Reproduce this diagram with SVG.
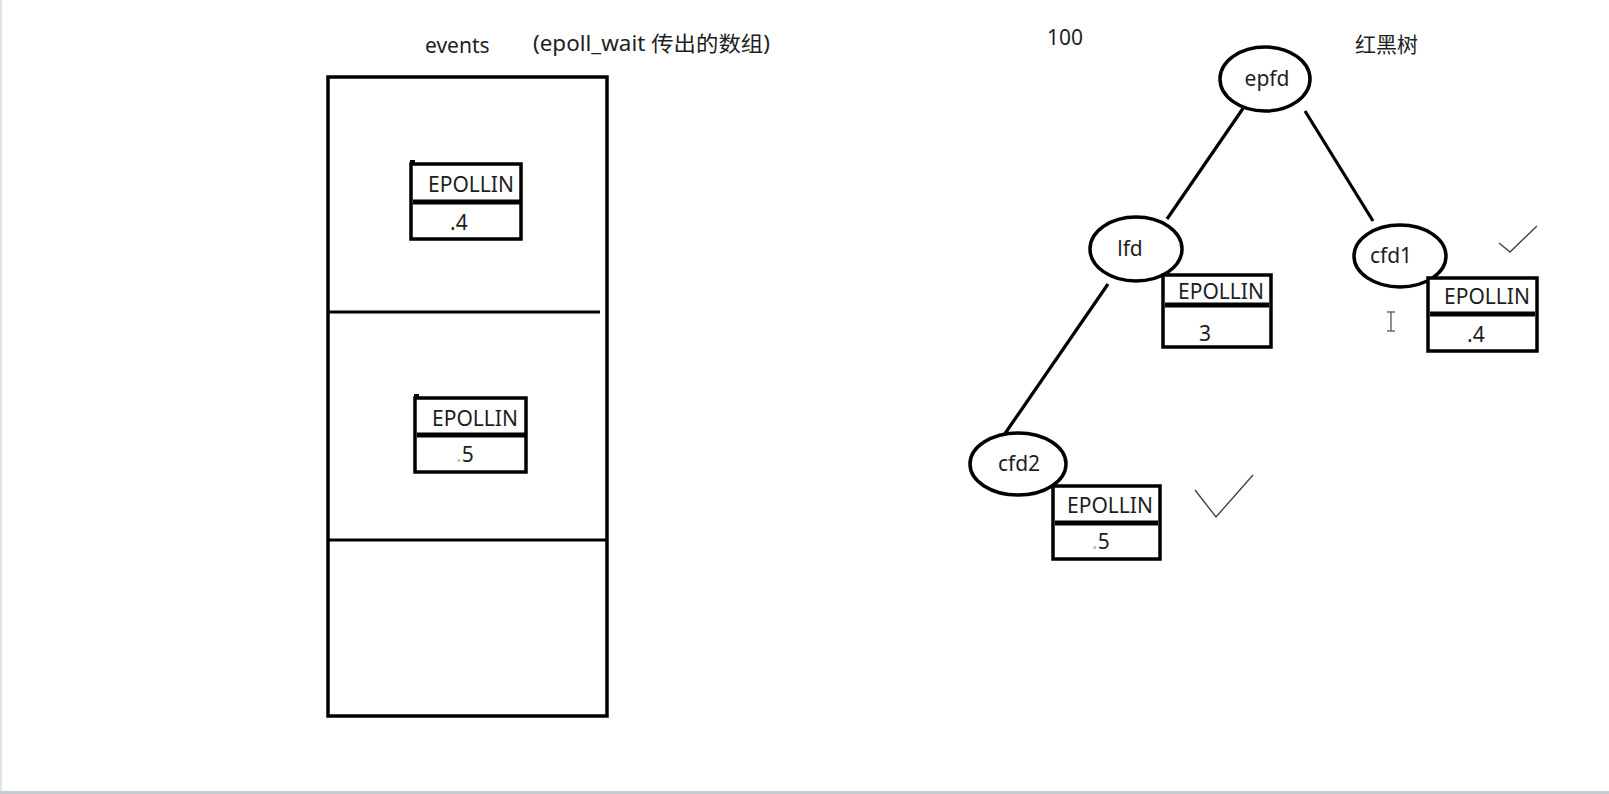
<svg xmlns="http://www.w3.org/2000/svg" width="1609" height="794" viewBox="0 0 1609 794">
<style>
  text{font-family:"Noto Sans","Noto Sans CJK SC",sans-serif;font-size:21px;fill:#1e1e1e}
  .node{fill:#fff;stroke:#000;stroke-width:3.5}
  .box{fill:#fff;stroke:#000;stroke-width:3.5}
  .sep{stroke:#000;stroke-width:5}
  .edge{stroke:#000;stroke-width:3.2;fill:none}
  .tick{stroke:#444;stroke-width:1.4;fill:none}
  .mid{text-anchor:middle}
</style>
<rect width="1609" height="794" fill="#fff"/>
<rect x="0" y="0" width="2" height="791" fill="#dde4ec"/>
<rect x="0" y="791" width="1609" height="3" fill="#c5cad3"/>

<g id="titles">
  <text x="425" y="53">events</text>
  <text x="533" y="51" textLength="237" lengthAdjust="spacingAndGlyphs">(epoll_wait 传出的数组)</text>
  <text x="1047" y="45">100</text>
  <text x="1355" y="52">红黑树</text>
</g>

<g id="events-array">
  <rect x="328" y="77" width="279" height="639" fill="none" stroke="#000" stroke-width="3.5"/>
  <line x1="328" y1="312" x2="600" y2="312" stroke="#000" stroke-width="3"/>
  <line x1="328" y1="540" x2="607" y2="540" stroke="#000" stroke-width="3"/>
</g>

<g id="event1">
  <rect class="box" x="411" y="164" width="110" height="75"/>
  <rect x="410" y="160" width="5" height="5" fill="#000"/>
  <line class="sep" x1="413" y1="202" x2="520" y2="202"/>
  <text x="428" y="192">EPOLLIN</text>
  <text x="450" y="230">.4</text>
</g>

<g id="event2">
  <rect class="box" x="415" y="398" width="111" height="74"/>
  <rect x="414" y="394" width="5" height="5" fill="#000"/>
  <line class="sep" x1="417" y1="435" x2="525" y2="435"/>
  <text x="432" y="426">EPOLLIN</text>
  <text x="456" y="462"><tspan fill="#bbb">.</tspan>5</text>
</g>

<g id="connectors">
  <line class="edge" x1="1244" y1="107" x2="1167" y2="219"/>
  <line class="edge" x1="1305" y1="111" x2="1373" y2="221"/>
  <line class="edge" x1="1108" y1="284" x2="1004" y2="435"/>
</g>

<g id="epfd">
  <ellipse class="node" cx="1265" cy="79" rx="45" ry="32"/>
  <text class="mid" x="1267" y="86">epfd</text>
</g>

<g id="lfd">
  <ellipse class="node" cx="1136" cy="249" rx="46" ry="32"/>
  <text class="mid" x="1130" y="256">lfd</text>
</g>

<g id="lfd-event">
  <rect class="box" x="1163" y="275" width="108" height="72"/>
  <line class="sep" x1="1165" y1="305" x2="1269" y2="305"/>
  <text x="1178" y="299">EPOLLIN</text>
  <text x="1199" y="341">3</text>
</g>

<g id="cfd1">
  <ellipse class="node" cx="1400" cy="256" rx="46" ry="31"/>
  <text class="mid" x="1391" y="263">cfd1</text>
</g>

<g id="cfd1-event">
  <rect class="box" x="1428" y="278" width="109" height="73"/>
  <line class="sep" x1="1430" y1="314" x2="1535" y2="314"/>
  <text x="1444" y="304">EPOLLIN</text>
  <text x="1467" y="342">.4</text>
</g>

<g id="cfd2">
  <ellipse class="node" cx="1018" cy="464" rx="48" ry="31"/>
  <text class="mid" x="1019" y="471">cfd2</text>
</g>

<g id="cfd2-event">
  <rect class="box" x="1053" y="486" width="107" height="73"/>
  <line class="sep" x1="1055" y1="523" x2="1158" y2="523"/>
  <text x="1067" y="513">EPOLLIN</text>
  <text x="1092" y="549"><tspan fill="#bbb">.</tspan>5</text>
</g>

<g id="marks">
  <polyline class="tick" points="1499,243 1510,252 1537,226"/>
  <polyline class="tick" points="1195,490 1216,517 1253,475"/>
  <g stroke="#555" stroke-width="1.3">
    <line x1="1391" y1="312" x2="1391" y2="331"/>
    <line x1="1387" y1="312" x2="1395" y2="312"/>
    <line x1="1387" y1="331" x2="1395" y2="331"/>
  </g>
</g>
</svg>
